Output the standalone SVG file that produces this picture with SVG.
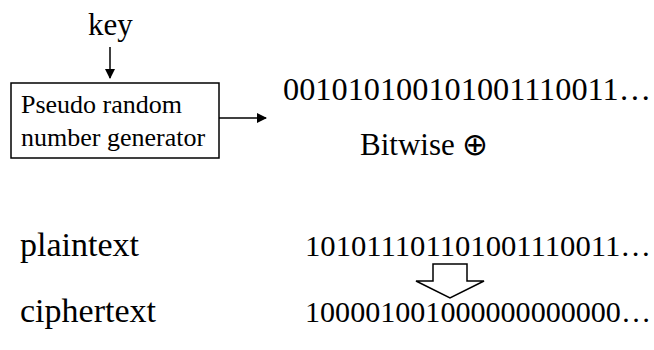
<svg xmlns="http://www.w3.org/2000/svg" width="654" height="350" viewBox="0 0 654 350">
<defs>
<marker id="ah" markerWidth="10" markerHeight="10" refX="9" refY="5" orient="auto" markerUnits="userSpaceOnUse">
<path d="M0,0 L10,5 L0,10 Z" fill="#000"/>
</marker>
</defs>
<rect width="654" height="350" fill="#fff"/>
<g id="key"><text font-family="Liberation Serif" font-size="31" x="88" y="35">key</text></g>
<g id="prng">
<rect x="11" y="83" width="208" height="75" fill="#fff" stroke="#000" stroke-width="1.5"/>
<text font-family="Liberation Serif" font-size="26" x="21" y="113">Pseudo random</text>
<text font-family="Liberation Serif" font-size="26" x="21" y="146">number generator</text>
</g>
<g id="keystream"><text font-family="Liberation Serif" font-size="32" x="283" y="100" textLength="368" lengthAdjust="spacingAndGlyphs">001010100101001110011…</text></g>
<g id="bitwise"><text font-family="Liberation Serif" font-size="31" x="360" y="155">Bitwise ⊕</text></g>
<g id="plainlabel"><text font-family="Liberation Serif" font-size="34" x="20" y="256">plaintext</text></g>
<g id="plainbits"><text font-family="Liberation Serif" font-size="30" x="305" y="256" textLength="346" lengthAdjust="spacingAndGlyphs">101011101101001110011…</text></g>
<g id="cipherlabel"><text font-family="Liberation Serif" font-size="34" x="20" y="322">ciphertext</text></g>
<g id="cipherbits"><text font-family="Liberation Serif" font-size="30" x="305" y="322" textLength="346" lengthAdjust="spacingAndGlyphs">100001001000000000000…</text></g>
<g id="connectors" stroke="#000" stroke-width="1.5" fill="none">
<line x1="110" y1="47" x2="110" y2="78" marker-end="url(#ah)"/>
<line x1="219" y1="118" x2="266" y2="118" marker-end="url(#ah)"/>
<path d="M433,264 L467,264 L467,281 L484,281 L450,298 L416,281 L433,281 Z" fill="#fff"/>
</g>
</svg>
